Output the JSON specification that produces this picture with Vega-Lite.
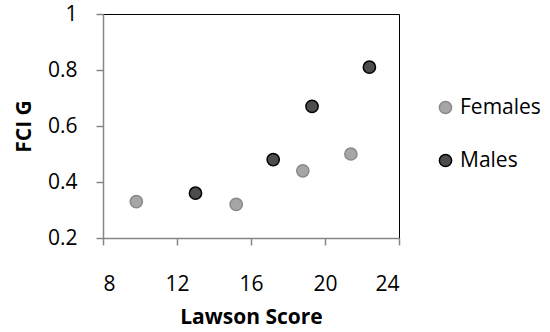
{
  "$schema": "https://vega.github.io/schema/vega-lite/v6.json",
  "autosize": "none",
  "width": 296,
  "height": 224,
  "padding": {"left": 103, "top": 14, "right": 151, "bottom": 94},
  "background": "white",
  "config": {
    "font": "Open Sans",
    "view": {"stroke": "#000000", "strokeWidth": 1},
    "axis": {
      "grid": false,
      "domainColor": "#868686",
      "domainWidth": 1.5,
      "tickColor": "#868686",
      "tickWidth": 1.5,
      "tickSize": 7,
      "labelFont": "Open Sans",
      "labelFontSize": 21,
      "labelColor": "#000000",
      "titleFont": "Open Sans",
      "titleFontSize": 21,
      "titleFontWeight": "bold",
      "titleColor": "#000000"
    }
  },
  "data": {
    "values": [
      {"score": 9.8, "fci": 0.33, "group": "Females"},
      {"score": 15.2, "fci": 0.32, "group": "Females"},
      {"score": 18.8, "fci": 0.44, "group": "Females"},
      {"score": 21.4, "fci": 0.5, "group": "Females"},
      {"score": 13.0, "fci": 0.36, "group": "Males"},
      {"score": 17.2, "fci": 0.48, "group": "Males"},
      {"score": 19.3, "fci": 0.67, "group": "Males"},
      {"score": 22.4, "fci": 0.81, "group": "Males"}
    ]
  },
  "mark": {"type": "point", "filled": true, "opacity": 1, "size": 150, "strokeWidth": 1.5},
  "encoding": {
    "x": {
      "field": "score",
      "type": "quantitative",
      "scale": {"domain": [8, 24], "nice": false, "zero": false},
      "axis": {
        "values": [8, 12, 16, 20, 24],
        "title": "Lawson Score",
        "labelBaseline": "alphabetic",
        "labelPadding": 45,
        "titleX": 148,
        "titleY": 85,
        "titleBaseline": "alphabetic",
        "titleAlign": "center"
      }
    },
    "y": {
      "field": "fci",
      "type": "quantitative",
      "scale": {"domain": [0.2, 1], "nice": false, "zero": false},
      "axis": {
        "values": [0.2, 0.4, 0.6, 0.8, 1],
        "format": ".1~f",
        "title": "FCI G",
        "labelPadding": 19,
        "titleX": -73,
        "titleY": 112,
        "titleAngle": 270,
        "titleBaseline": "alphabetic",
        "titleAlign": "center"
      }
    },
    "fill": {
      "field": "group",
      "type": "nominal",
      "scale": {"domain": ["Females", "Males"], "range": ["#a6a6a6", "#4d4d4d"]},
      "legend": {
        "title": null,
        "orient": "none",
        "legendX": 332,
        "legendY": 83,
        "padding": 0,
        "rowPadding": 31,
        "symbolSize": 150,
        "symbolStrokeWidth": 1.5,
        "labelOffset": 4,
        "labelFont": "Open Sans",
        "labelFontSize": 21,
        "labelColor": "#000000"
      }
    },
    "stroke": {
      "field": "group",
      "type": "nominal",
      "scale": {"domain": ["Females", "Males"], "range": ["#8a8a8a", "#000000"]},
      "legend": {
        "title": null,
        "orient": "none",
        "legendX": 332,
        "legendY": 83,
        "padding": 0,
        "rowPadding": 31,
        "symbolSize": 150,
        "symbolStrokeWidth": 1.5,
        "labelOffset": 4,
        "labelFont": "Open Sans",
        "labelFontSize": 21,
        "labelColor": "#000000"
      }
    }
  }
}
